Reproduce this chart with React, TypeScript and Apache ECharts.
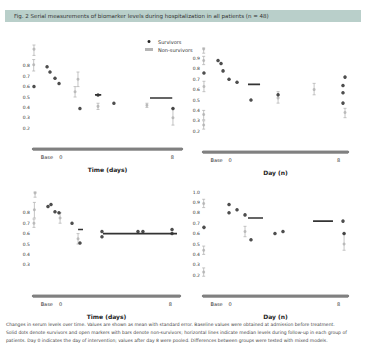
import React, { useEffect, useRef } from "react";
import * as echarts from "echarts";

// ---- data ----
const TITLE = "Fig. 2 Serial measurements of biomarker levels during hospitalization in all patients (n = 48)";
const X_TICK_LABELS: Record<string, string> = { "-1": "Base", "0": "0", "8": "8" };
const X_TITLES = ["Time (days)", "Day (n)", "Time (days)", "Day (n)"];
const SERIES_NAMES = ["Survivors", "Non-survivors"];
const X_RANGE = [-2, 8.7];

// dark points [x, y]
const p1Dark = [[-0.99, 0.79], [-0.78, 0.74], [-0.42, 0.68], [-0.13, 0.63], [1.37, 0.39], [2.67, 0.52], [3.81, 0.44], [8.05, 0.39], [-1.93, 0.6]];
const p2Dark = [[-0.89, 0.88], [-0.67, 0.85], [-0.52, 0.78], [-0.08, 0.7], [0.51, 0.67], [1.54, 0.5], [3.54, 0.55], [8.48, 0.72], [8.33, 0.64], [8.33, 0.57], [8.33, 0.47], [-1.93, 0.76]];
const p3Dark = [[-0.91, 0.86], [-0.69, 0.88], [-0.4, 0.81], [-0.11, 0.8], [0.84, 0.7], [1.42, 0.51], [3.02, 0.62], [3.02, 0.57], [5.64, 0.62], [6.0, 0.62], [8.12, 0.64], [8.12, 0.6]];
const p4Dark = [[-0.08, 0.88], [-0.08, 0.8], [0.51, 0.83], [1.1, 0.78], [1.54, 0.54], [3.31, 0.6], [3.9, 0.62], [8.33, 0.72], [8.41, 0.6], [-1.93, 0.66]];

// plateau segments [x0, x1, y]
const p1Plat = [[2.45, 2.9, 0.52], [6.4, 8.0, 0.49]];
const p2Plat = [[1.32, 2.21, 0.65]];
const p3Plat = [[1.28, 1.64, 0.64], [3.09, 8.48, 0.6]];
const p4Plat = [[1.32, 2.43, 0.75], [6.12, 7.59, 0.72]];

// light points with error bars [x, y, lo, hi]
const p1Light = [[-1.93, 0.96, 0.9, 1.0], [-1.95, 0.81, 0.75, 0.86], [1.02, 0.55, 0.5, 0.6], [1.23, 0.67, 0.6, 0.74], [2.67, 0.41, 0.38, 0.44], [6.18, 0.42, 0.4, 0.44], [8.05, 0.3, 0.23, 0.39]];
const p2Light = [[-1.95, 0.99, 0.95, 1.0], [-1.95, 0.88, 0.84, 0.92], [-1.93, 0.63, 0.58, 0.68], [-1.95, 0.36, 0.31, 0.4], [-1.95, 0.26, 0.22, 0.3], [3.54, 0.52, 0.47, 0.58], [8.48, 0.38, 0.33, 0.42], [6.2, 0.6, 0.55, 0.66]];
const p3Light = [[-1.85, 0.99, 0.95, 1.0], [-1.9, 0.83, 0.75, 0.9], [-1.93, 0.7, 0.66, 0.74], [-0.03, 0.75, 0.7, 0.8], [1.28, 0.55, 0.5, 0.6]];
const p4Light = [[-1.95, 0.89, 0.85, 0.93], [-1.95, 0.44, 0.4, 0.48], [-1.95, 0.23, 0.19, 0.27], [1.1, 0.62, 0.57, 0.67], [8.41, 0.5, 0.44, 0.6]];

// y label ranges per panel [from, to]
const yLabelRanges = [[0.2, 0.8], [0.2, 0.9], [0.3, 0.8], [0.2, 1.0]];

const CAPTION = [
  "Changes in serum levels over time. Values are shown as mean with standard error. Baseline values were obtained at admission before treatment.",
  "Solid dots denote survivors and open markers with bars denote non-survivors; horizontal lines indicate median levels during follow-up in each group of",
  "patients. Day 0 indicates the day of intervention; values after day 8 were pooled. Differences between groups were tested with mixed models.",
];

const DARK = [p1Dark, p2Dark, p3Dark, p4Dark];
const PLAT = [p1Plat, p2Plat, p3Plat, p4Plat];
const LIGHT = [p1Light, p2Light, p3Light, p4Light];

const GRIDS = [
  { left: 33, top: 45, width: 149, height: 104 },
  { left: 203, top: 48, width: 145, height: 104 },
  { left: 33, top: 192, width: 147, height: 104 },
  { left: 203, top: 192, width: 145, height: 104 },
];

function platData(segs: number[][]) {
  const out: any[] = [];
  segs.forEach((s, i) => {
    if (i > 0) out.push(["-", "-"]);
    out.push([s[0], s[2]]);
    out.push([s[1], s[2]]);
  });
  return out;
}

export default function App() {
  const ref = useRef<HTMLDivElement>(null);
  useEffect(() => {
    const chart = echarts.init(ref.current!, undefined, { renderer: "svg" });
    const xAxis: any[] = [];
    const yAxis: any[] = [];
    const series: any[] = [];
    GRIDS.forEach((g, i) => {
      xAxis.push({
        type: "value", gridIndex: i, position: "bottom", min: X_RANGE[0], max: X_RANGE[1], interval: 1,
        axisLine: { show: true, onZero: false, lineStyle: { color: "#808080", width: 2.4 } },
        axisTick: { show: false }, splitLine: { show: false },
        axisLabel: {
          fontSize: 5, color: "#333", margin: 5, showMinLabel: false, showMaxLabel: false,
          formatter: (v: number) => X_TICK_LABELS[String(Math.round(v))] ?? "",
        },
        name: X_TITLES[i], nameLocation: "middle", nameGap: 17,
        nameTextStyle: { fontSize: 6, fontWeight: "bold", color: "#222", fontFamily: "DejaVu Sans" },
      });
      const [lo, hi] = yLabelRanges[i];
      yAxis.push({
        type: "value", gridIndex: i, min: 0, max: 1, interval: 0.1,
        axisLine: { show: false }, axisTick: { show: false }, splitLine: { show: false },
        axisLabel: {
          fontSize: 4.5, color: "#333", margin: 3,
          formatter: (v: number) => (v >= lo - 1e-6 && v <= hi + 1e-6 ? v.toFixed(1) : ""),
        },
      });
      // baseline (x axis) drawn as an unclipped line along y = 0
      series.push({
        type: "line", xAxisIndex: i, yAxisIndex: i, clip: false, silent: true, z: 1,
        data: [[X_RANGE[0], 0], [X_RANGE[1], 0]], symbol: "none",
        lineStyle: { color: "#808080", width: 2.4 }, tooltip: { show: false },
      });
      series.push({
        type: "custom", name: SERIES_NAMES[1], xAxisIndex: i, yAxisIndex: i,
        data: LIGHT[i], encode: { x: 0, y: [2, 3] },
        renderItem: (params: any, api: any) => {
          const x = api.value(0), l = api.value(2), h = api.value(3);
          const a = api.coord([x, l]);
          const b = api.coord([x, h]);
          const st = { stroke: "#b5b5b5", lineWidth: 0.8 };
          return {
            type: "group",
            children: [
              { type: "line", shape: { x1: a[0], y1: a[1], x2: b[0], y2: b[1] }, style: st },
              { type: "line", shape: { x1: a[0] - 1.5, y1: a[1], x2: a[0] + 1.5, y2: a[1] }, style: st },
              { type: "line", shape: { x1: b[0] - 1.5, y1: b[1], x2: b[0] + 1.5, y2: b[1] }, style: st },
            ],
          };
        },
        itemStyle: { color: "#b5b5b5" },
      });
      series.push({
        type: "scatter", name: SERIES_NAMES[1], xAxisIndex: i, yAxisIndex: i,
        data: LIGHT[i].map((d) => [d[0], d[1]]), symbol: "circle", symbolSize: 3,
        itemStyle: { color: "#b0b0b0" },
      });
      series.push({
        type: "line", name: SERIES_NAMES[0], xAxisIndex: i, yAxisIndex: i,
        data: platData(PLAT[i]), showSymbol: false, symbol: "none",
        lineStyle: { color: "#333", width: 1.6 }, itemStyle: { color: "#222" },
      });
      series.push({
        type: "scatter", name: SERIES_NAMES[0], xAxisIndex: i, yAxisIndex: i,
        data: DARK[i], symbol: "circle", symbolSize: 3.5, itemStyle: { color: "#222" },
      });
    });

    const axisBars = GRIDS.map((g) => ({
      type: "rect", silent: true, z: 50,
      shape: { x: g.left, y: g.top + g.height - 1, width: g.width, height: 2.4 },
      style: { fill: "#808080" },
    }));

    chart.setOption({
      animation: false,
      textStyle: { fontFamily: "DejaVu Sans" },
      grid: GRIDS.map((g) => ({ ...g, containLabel: false })),
      xAxis, yAxis, series,
      legend: {
        data: [
          { name: SERIES_NAMES[0], icon: "circle" },
          { name: SERIES_NAMES[1], icon: "rect" },
        ],
        orient: "vertical", left: 140, top: 34, itemWidth: 8, itemHeight: 3, itemGap: 3,
        textStyle: { fontSize: 5, color: "#333" },
      },
      graphic: {
        elements: [
          { type: "rect", shape: { x: 5, y: 10, width: 356, height: 12 }, style: { fill: "#b9cfca" }, silent: true },
          {
            type: "text", x: 14, y: 16,
            style: { text: TITLE, fontSize: 5.5, fill: "#333", verticalAlign: "middle", fontFamily: "DejaVu Sans" },
          },
          ...axisBars,
          ...CAPTION.map((t, k) => ({
            type: "text", x: 6, y: 322 + k * 8,
            style: { text: t, fontSize: 4.5, fill: "#444", fontFamily: "DejaVu Sans" },
          })),
        ],
      },
    });
    return () => chart.dispose();
  }, []);
  return <div ref={ref} style={{ position: "fixed", left: 0, top: 0, width: 366, height: 353, background: "#fff" }} />;
}
